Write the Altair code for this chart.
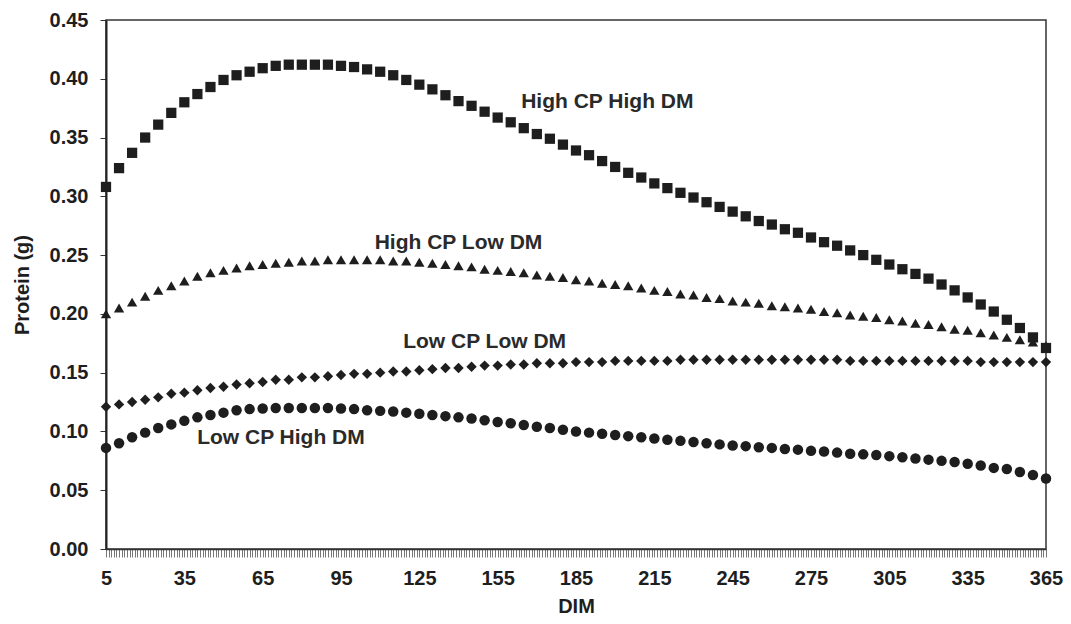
import altair as alt
import pandas as pd

# ---- data ----
dim = list(range(5, 366, 5))

high_cp_high_dm = [
    0.308, 0.324, 0.337, 0.350, 0.361, 0.371, 0.380, 0.387, 0.393, 0.399,
    0.403, 0.406, 0.409, 0.411, 0.412, 0.412, 0.412, 0.412, 0.411, 0.410,
    0.408, 0.406, 0.403, 0.399, 0.395, 0.391, 0.386, 0.381, 0.377, 0.372,
    0.367, 0.363, 0.358, 0.353, 0.349, 0.344, 0.339, 0.335, 0.330, 0.325,
    0.320, 0.316, 0.311, 0.307, 0.303, 0.299, 0.295, 0.291, 0.287, 0.283,
    0.279, 0.276, 0.272, 0.269, 0.265, 0.261, 0.258, 0.254, 0.250, 0.246,
    0.242, 0.238, 0.234, 0.230, 0.225, 0.220, 0.214, 0.208, 0.202, 0.195,
    0.188, 0.180, 0.171,
]

high_cp_low_dm = [
    0.200, 0.205, 0.210, 0.215, 0.220, 0.224, 0.228, 0.232, 0.235, 0.237,
    0.239, 0.241, 0.242, 0.243, 0.244, 0.245, 0.245, 0.246, 0.246, 0.246,
    0.246, 0.246, 0.245, 0.245, 0.244, 0.243, 0.242, 0.241, 0.240, 0.238,
    0.237, 0.236, 0.235, 0.233, 0.232, 0.231, 0.229, 0.228, 0.226, 0.225,
    0.224, 0.222, 0.220, 0.219, 0.217, 0.216, 0.214, 0.213, 0.211, 0.210,
    0.209, 0.207, 0.206, 0.205, 0.204, 0.202, 0.201, 0.199, 0.198, 0.197,
    0.195, 0.194, 0.192, 0.191, 0.189, 0.187, 0.186, 0.184, 0.182, 0.180,
    0.178, 0.176, 0.173,
]

low_cp_low_dm = [
    0.121, 0.123, 0.125, 0.127, 0.129, 0.132, 0.133, 0.135, 0.137, 0.138,
    0.140, 0.141, 0.142, 0.144, 0.144, 0.146, 0.146, 0.147, 0.148, 0.149,
    0.149, 0.150, 0.151, 0.151, 0.152, 0.153, 0.154, 0.154, 0.155, 0.156,
    0.156, 0.157, 0.157, 0.158, 0.158, 0.158, 0.159, 0.159, 0.159, 0.160,
    0.160, 0.160, 0.160, 0.160, 0.161, 0.161, 0.161, 0.161, 0.161, 0.161,
    0.161, 0.161, 0.161, 0.161, 0.161, 0.161, 0.161, 0.160, 0.160, 0.160,
    0.160, 0.160, 0.160, 0.160, 0.160, 0.160, 0.160, 0.159, 0.159, 0.159,
    0.159, 0.159, 0.159,
]

low_cp_high_dm = [
    0.086, 0.090, 0.095, 0.099, 0.103, 0.106, 0.109, 0.112, 0.114, 0.116,
    0.118, 0.119, 0.1195, 0.120, 0.120, 0.120, 0.120, 0.120, 0.1195, 0.119,
    0.118, 0.1175, 0.117, 0.116, 0.115, 0.114, 0.113, 0.112, 0.111, 0.1095,
    0.108, 0.107, 0.1055, 0.104, 0.103, 0.1015, 0.100, 0.099, 0.098, 0.097,
    0.096, 0.095, 0.094, 0.093, 0.092, 0.091, 0.090, 0.089, 0.088, 0.0875,
    0.0865, 0.086, 0.085, 0.0845, 0.0835, 0.083, 0.082, 0.081, 0.0805, 0.080,
    0.079, 0.078, 0.077, 0.076, 0.075, 0.074, 0.0725, 0.071, 0.069, 0.068,
    0.0655, 0.063, 0.060,
]

series_names = ["High CP High DM", "High CP Low DM", "Low CP Low DM", "Low CP High DM"]
series_values = [high_cp_high_dm, high_cp_low_dm, low_cp_low_dm, low_cp_high_dm]

label_text = ["High CP High DM", "High CP Low DM", "Low CP Low DM", "Low CP High DM"]
label_dim = [197, 140, 150, 72]
label_value = [0.380, 0.2605, 0.176, 0.0947]

x_tick_labels = list(range(5, 366, 30))
x_minor_ticks = list(range(5, 366))
y_tick_values = [0.00, 0.05, 0.10, 0.15, 0.20, 0.25, 0.30, 0.35, 0.40, 0.45]

# ---- build tables ----
rows = []
for name, vals in zip(series_names, series_values):
    for d, v in zip(dim, vals):
        rows.append({"dim": d, "protein": v, "series": name})
df = pd.DataFrame(rows)
labels_df = pd.DataFrame({"text": label_text, "dim": label_dim, "protein": label_value})

FONT = "Liberation Sans"
INK = "#1e1e1e"

x_scale = alt.Scale(domain=[5, 365], nice=False, zero=False)
y_scale = alt.Scale(domain=[0, 0.45], nice=False, zero=True)

x_axis = alt.Axis(
    title="DIM",
    values=x_minor_ticks,
    tickCount=1000,
    format="d",
    labelExpr="indexof([" + ",".join(str(v) for v in x_tick_labels) + "], datum.value) >= 0 ? datum.label : ''",
    labelOverlap=False,
    labelFlush=False,
    tickSize=8,
    tickColor="#777",
    tickWidth=1,
    grid=False,
    domainColor="#333",
    domainWidth=1.5,
    labelFont=FONT,
    labelFontSize=20,
    labelFontWeight="bold",
    labelColor=INK,
    labelPadding=11,
    titleFont=FONT,
    titleFontSize=20,
    titleFontWeight="bold",
    titleColor=INK,
    titlePadding=8,
)

y_axis = alt.Axis(
    title="Protein (g)",
    values=y_tick_values,
    tickCount=20,
    format=".2f",
    tickSize=6,
    tickColor="#333",
    grid=False,
    domainColor="#222",
    domainWidth=2,
    labelFont=FONT,
    labelFontSize=20,
    labelFontWeight="bold",
    labelColor=INK,
    labelPadding=12,
    titleFont=FONT,
    titleFontSize=20,
    titleFontWeight="bold",
    titleColor=INK,
    titlePadding=17,
)

points = alt.Chart(df).mark_point(filled=True, opacity=1, color=INK).encode(
    x=alt.X("dim:Q", scale=x_scale, axis=x_axis),
    y=alt.Y("protein:Q", scale=y_scale, axis=y_axis),
    shape=alt.Shape(
        "series:N",
        scale=alt.Scale(domain=series_names, range=["square", "triangle-up", "diamond", "circle"]),
        legend=None,
    ),
    size=alt.Size(
        "series:N",
        scale=alt.Scale(domain=series_names, range=[105, 110, 70, 85]),
        legend=None,
    ),
)

texts = alt.Chart(labels_df).mark_text(
    font=FONT, fontSize=21, fontWeight="bold", color="#2a2a2a", align="center", baseline="middle"
).encode(
    x=alt.X("dim:Q", scale=x_scale),
    y=alt.Y("protein:Q", scale=y_scale),
    text="text:N",
)

chart = (
    alt.layer(points, texts)
    .properties(
        width=940,
        height=529,
        autosize=alt.AutoSizeParams(type="none"),
        padding={"left": 98, "top": 12, "right": 17, "bottom": 67},
        background="white",
    )
    .configure_view(stroke="#333", strokeWidth=1.5)
)

chart.save("out.html", embed_options={"renderer": "svg", "actions": False})
